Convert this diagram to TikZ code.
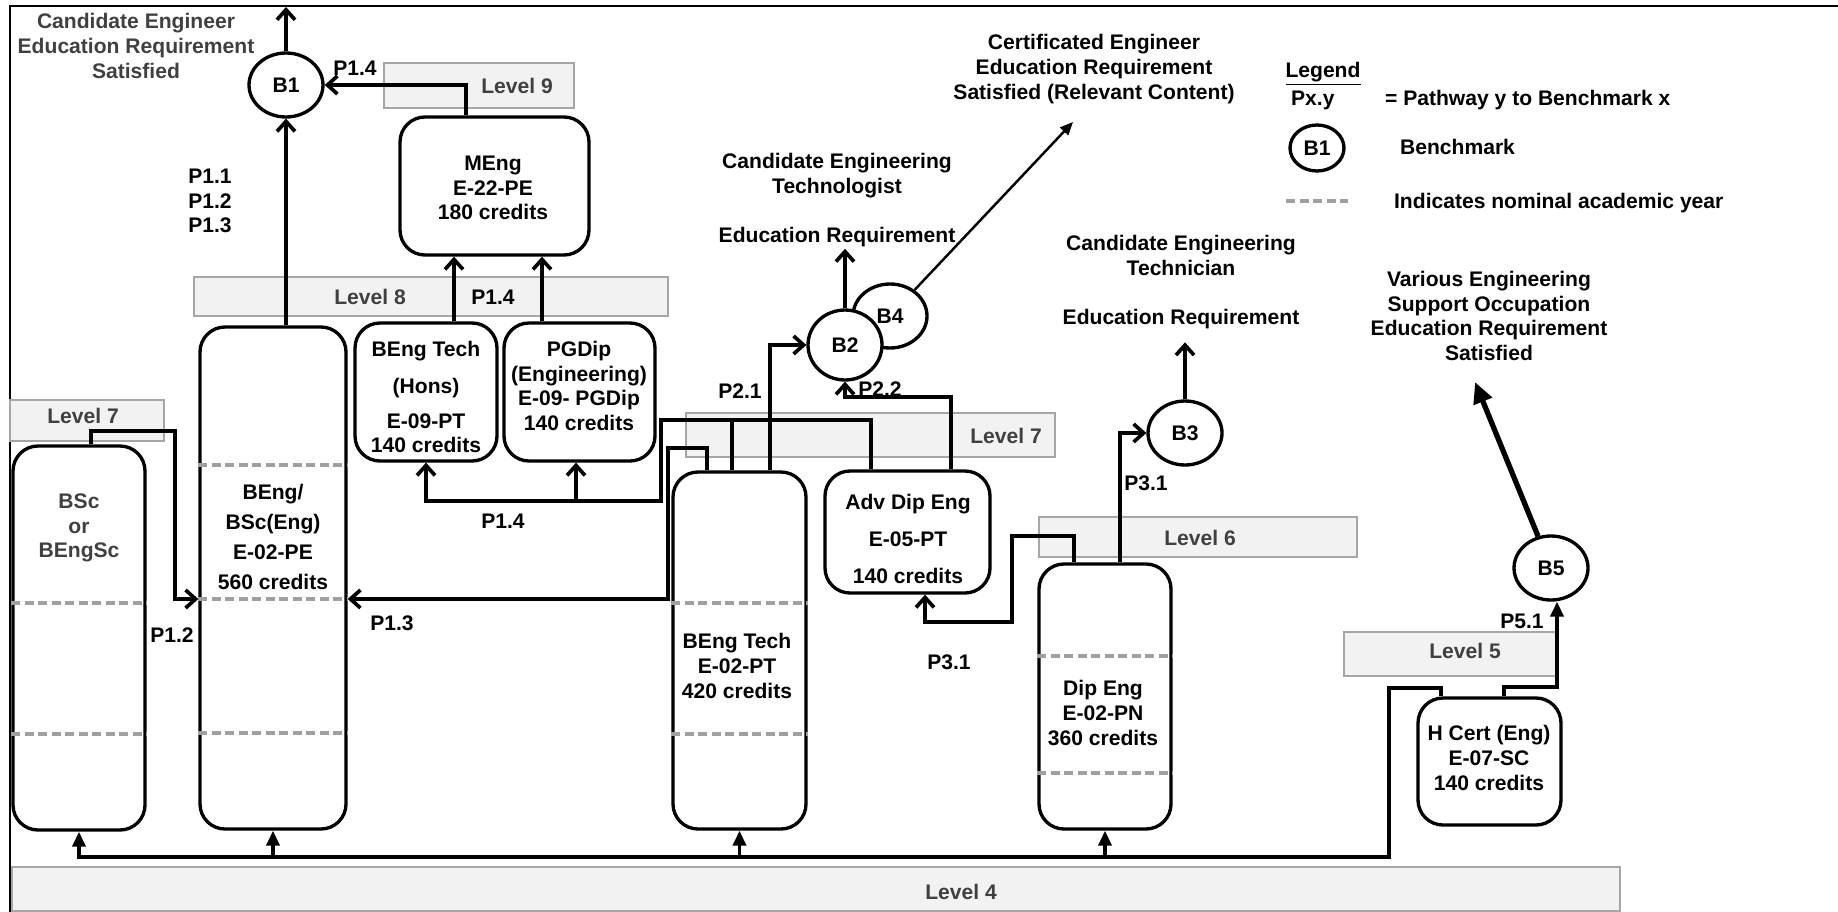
\documentclass[tikz,border=0pt]{standalone}
\usepackage{fontspec}
\setmainfont{Liberation Sans}
\usetikzlibrary{arrows.meta}
\usetikzlibrary{positioning}
\usetikzlibrary{fit}
\usetikzlibrary{shapes.geometric}
\definecolor{lvlfill}{RGB}{242,242,242}
\definecolor{lvlline}{RGB}{166,166,166}
\definecolor{lvltext}{RGB}{64,64,64}
\definecolor{yrgray}{RGB}{160,160,160}
\tikzset{lvl/.style = {draw=lvlline, fill=lvlfill, line width=1.1pt, inner sep=0}}
\tikzset{txt/.style = {font=\bfseries\fontsize{12}{14}\selectfont, align=center, inner sep=1pt}}
\tikzset{lvltxt/.style = {txt, text=lvltext}}
\tikzset{prog/.style = {draw, line width=1.9pt, rounded corners=0.5cm, inner sep=0}}
\tikzset{bm/.style = {draw, ellipse, line width=1.9pt, fill=white, inner sep=0,
                      font=\bfseries\fontsize{12}{14}\selectfont,
                      minimum width=1.48cm, minimum height=1.28cm}}
\tikzset{yr/.style = {draw=yrgray, line width=1.9pt, dash pattern=on 0.18cm off 0.09cm}}
\tikzset{conn/.style = {line width=2.1pt}}
\tikzset{arrb/.style = {conn, -{Straight Barb[length=0.2cm, width=0.36cm]}}}
\tikzset{arrf/.style = {conn, -{Triangle[length=0.3cm, width=0.26cm]}}}

\begin{document}
\begin{tikzpicture}[x=0.02cm, y=-0.02cm]
  \useasboundingbox (0,0) rectangle (1838,912);
  \draw [line width=1.5pt] (10,912) -- (10,6) -- (1838,6);

  % levels
  \node [lvl, fit={(384,63) (574,108)}] (lv9) {};
  \node [lvl, fit={(194,277) (668,316)}] (lv8) {};
  \node [lvl, fit={(10,400) (164,441)}] (lv7a) {};
  \node [lvl, fit={(686,413) (1055,457)}] (lv7b) {};
  \node [lvl, fit={(1039,517) (1357,557)}] (lv6) {};
  \node [lvl, fit={(1344,632) (1556,676)}] (lv5) {};
  \node [lvl, fit={(12,867) (1620,911)}] (lv4) {};
  \node [lvltxt] (lv9t) at (517,86) {Level 9};
  \node [lvltxt] (lv8t) at (370,297) {Level 8};
  \node [lvltxt] (lv7at) at (83,416) {Level 7};
  \node [lvltxt] (lv7bt) at (1006,436) {Level 7};
  \node [lvltxt] (lv6t) at (1200,538) {Level 6};
  \node [lvltxt] (lv5t) at (1465,651) {Level 5};
  \node [lvltxt] (lv4t) at (961,892) {Level 4};

  % programmes
  \node [prog, fit={(13,446) (145,830)}] (bsc) {};
  \node [prog, fit={(200,327) (346,829)}] (beng) {};
  \node [prog, fit={(355,323) (497,461)}] (hons) {};
  \node [prog, fit={(504,323) (655,461)}] (pgd) {};
  \node [prog, fit={(400,117) (589,255)}] (meng) {};
  \node [prog, fit={(673,472) (806,829)}] (bet) {};
  \node [prog, fit={(825,471) (990,593)}] (adv) {};
  \node [prog, fit={(1039,564) (1171,829)}] (dip) {};
  \node [prog, fit={(1418,698) (1561,825)}] (hc) {};
  \foreach \y in {603,734} \draw [yr] (bsc.west |- 0,\y) -- (bsc.east |- 0,\y);
  \foreach \y in {465,599,733} \draw [yr] (beng.west |- 0,\y) -- (beng.east |- 0,\y);
  \foreach \y in {603,734} \draw [yr] (bet.west |- 0,\y) -- (bet.east |- 0,\y);
  \foreach \y in {656,773} \draw [yr] (dip.west |- 0,\y) -- (dip.east |- 0,\y);

  \node [txt, text=lvltext] (bsct) at (79,528) {BSc\\or\\BEngSc};
  \node [txt] (bengt) at (273,537) {BEng/\\[3pt]BSc(Eng)\\[3pt]E-02-PE\\[3pt]560 credits};
  \node [txt] (honst) at (426,397) {BEng Tech\\[7pt](Hons)\\[6pt]E-09-PT\\140 credits};
  \node [txt] (pgdt) at (579,386) {PGDip\\(Engineering)\\E-09- PGDip\\140 credits};
  \node [txt] (mengt) at (493,188) {MEng\\E-22-PE\\180 credits};
  \node [txt] (bett) at (737,666) {BEng Tech\\E-02-PT\\420 credits};
  \node [txt] (advt) at (908,539) {Adv Dip Eng\\[7pt]E-05-PT\\[7pt]140 credits};
  \node [txt] (dipt) at (1103,713) {Dip Eng\\E-02-PN\\360 credits};
  \node [txt] (hct) at (1489,758) {H Cert (Eng)\\E-07-SC\\140 credits};

  % benchmarks
  \node [bm] (b1) at (286,85) {B1};
  \node [bm] (b4) at (890,316) {B4};
  \node [bm, minimum height=1.4cm] (b2) at (845,345) {B2};
  \node [bm] (b3) at (1185,433) {B3};
  \node [bm] (b5) at (1551,568) {B5};

  % outcomes
  \node [txt, text=lvltext] (cand) at (136,46) {Candidate Engineer\\Education Requirement\\Satisfied};
  \node [txt] (cert) at (1094,69) {Certificated Engineer\\Education Requirement\\Satisfied (Relevant Content)};
  \node [txt] (ctech) at (837,200) {Candidate Engineering\\Technologist\\[14pt]Education Requirement};
  \node [txt] (ctechn) at (1181,282) {Candidate Engineering\\Technician\\[14pt]Education Requirement};
  \node [txt] (various) at (1489,316) {Various Engineering\\Support Occupation\\Education Requirement\\Satisfied};
  \coordinate (certtip) at (1073,122);
  \coordinate (vartip) at (1475,382);

  % pathways
  \draw [arrb] (b1.north) -- (b1.north |- 0,7);
  \draw [arrb] (b1.south |- beng.north) -- (b1.south);
  \draw [arrb] (meng.north -| 466,0) |- (b1.east);
  \draw [arrb] (hons.north -| 454,0) -- (meng.south -| 454,0);
  \draw [arrb] (pgd.north -| 542,0) -- (meng.south -| 542,0);
  \draw [arrb] (bsc.north -| 91,0) |- (175,431) |- (beng.west |- 0,599);
  \draw [arrb] (bet.north -| 707,0) |- (668,448) |- (beng.east |- 0,599);
  \draw [arrb] (bet.north -| 732,0) |- (661,420) |- (426,501) -- (hons.south -| 426,0);
  \draw [arrb] (576,501) -- (pgd.south -| 576,0);
  \draw [conn] (adv.north -| 871,0) |- (732,420);
  \draw [arrb] (bet.north -| 770,0) |- (b2.west);
  \draw [arrb] (adv.north -| 951,0) |- (b2.south |- 0,397) -- (b2.south);
  \draw [arrb] (b2.north) -- (b2.north |- ctech.south);
  \draw [line width=1.4pt, -{Triangle[length=0.26cm, width=0.22cm]}] (b4) -- (certtip);
  \draw [arrb] (dip.north -| 1074,0) |- (1012,536) |- (925,622) -- (adv.south -| 925,0);
  \draw [arrb] (dip.north -| 1120,0) |- (b3.west);
  \draw [arrb] (b3.north) -- ++(0,-57);
  \draw [arrf] (hc.north -| 1504,0) |- (1557,687) -- (b5.south -| 1557,0);
  \draw [line width=3pt, -{Triangle[length=0.42cm, width=0.38cm]}] (b5) -- (vartip);
  \draw [arrf] (hc.north -| 1441,0) |- (1389,688) |- (bsc.south |- 0,857) -- (bsc.south);
  \foreach \b in {beng, bet, dip}
    \draw [arrf] (\b.south |- 0,857) -- (\b.south);

  % pathway labels
  \node [txt] (p14a) at (355,68) {P1.4};
  \node [txt] (p11) at (210,201) {P1.1\\P1.2\\P1.3};
  \node [txt] (p14b) at (493,297) {P1.4};
  \node [txt] (p12) at (172,635) {P1.2};
  \node [txt] (p13) at (392,623) {P1.3};
  \node [txt] (p14c) at (503,521) {P1.4};
  \node [txt] (p21) at (740,391) {P2.1};
  \node [txt] (p22) at (880,389) {P2.2};
  \node [txt] (p31a) at (949,662) {P3.1};
  \node [txt] (p31b) at (1146,483) {P3.1};
  \node [txt] (p51) at (1522,621) {P5.1};

  % legend
  \node [txt] (leg) at (1323,74) {\underline{Legend}};
  \node [txt, anchor=west] (pxy) at (1289,100) {Px.y};
  \node [txt, anchor=west] (pxyd) at (1383,100) {= Pathway y to Benchmark x};
  \node [bm, minimum width=1.08cm, minimum height=0.92cm] (legb) at (1317,148) {B1};
  \node [txt, anchor=west] (legbt) at (1398,147) {Benchmark};
  \draw [yr] (1286,201) -- (1348,201);
  \node [txt, anchor=west] (legyr) at (1392,203) {Indicates nominal academic year};
\end{tikzpicture}
\end{document}
